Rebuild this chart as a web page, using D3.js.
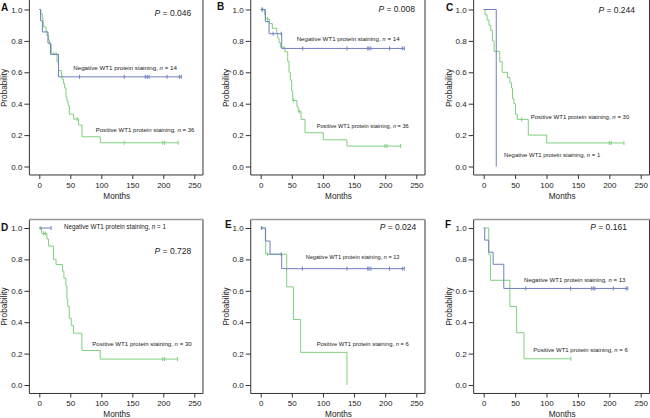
<!DOCTYPE html>
<html><head><meta charset="utf-8">
<script src="https://cdn.jsdelivr.net/npm/d3@7"></script>
<style>
html,body{margin:0;padding:0;background:#fff;}
svg{display:block;font-family:"Liberation Sans",Arial,sans-serif;}
</style></head>
<body>
<svg id="chart" width="650" height="418"></svg>
<script>
// ---------- data ----------
const panelLetters = ["A","B","C","D","E","F"];
const pValues = ["0.046","0.008","0.244","0.728","0.024","0.161"];
const negN = [14,14,1,1,13,13];
const posN = [36,36,30,30,6,6];
const xTicks = [0,50,100,150,200,250];
const yTicks = [0,0.2,0.4,0.6,0.8,1.0];

// Panel A
const negTimesA = [0,2,5,14,18,31];
const negSurvA  = [1,0.929,0.857,0.786,0.714,0.571];
const negCensA  = [65,137,171,174,177,206,226,229];
const posTimesA = [0,2.7,4.8,6,7,10.8,12.4,15,16.7,19.4,28.5,31,35.5,36.6,39.2,40.9,43,44.6,46.5,48.4,55.4,63.4,68.8,98.4];
const posSurvA  = [1,0.972,0.944,0.917,0.889,0.861,0.833,0.806,0.778,0.722,0.667,0.611,0.583,0.556,0.528,0.5,0.444,0.417,0.389,0.333,0.302,0.264,0.189,0.151];
const posCensA  = [61,137,199,202,224];
// Panel B
const negTimesB = [0,7.5,13.4,33.7];
const negSurvB  = [1,0.923,0.846,0.752];
const negCensB  = [3,20,33,67.5,138.6,172,174,177,207,227.5,230.7];
const posTimesB = [0,5.9,7.5,14,18.7,25.7,27.3,29.4,31.6,39,43.4,45.5,47.6,49.8,51.4,58.3,60.4,64.8,71.2,100.6,138.6];
const posSurvB  = [1,0.97,0.94,0.91,0.88,0.85,0.82,0.79,0.76,0.73,0.67,0.6,0.55,0.48,0.42,0.38,0.35,0.30,0.215,0.17,0.13];
const posCensB  = [1.6,11,53,62,199.7,203,224.8];
// Panel C
const negTimesC = [0,20];
const negSurvC  = [1,0];
const negCensC  = [];
const posTimesC = [0,2.1,5.3,8.5,11.2,13.9,16.6,25.6,29.4,37.9,41.7,44.3,45.9,48,50.7,53.4,71,100.4];
const posSurvC  = [1,0.967,0.933,0.9,0.867,0.8,0.733,0.667,0.6,0.567,0.533,0.5,0.433,0.4,0.333,0.3,0.2,0.15];
const posCensC  = [60.4,200,203,223.3];
// Panel D
const negTimesD = [0];
const negSurvD  = [1];
const negCensD  = [19];
const posTimesD = [0,3.8,12.3,15,23,27,37.5,39.7,42.9,44.5,46,48.3,51.5,55,68.7,98.2];
const posSurvD  = [1,0.965,0.93,0.885,0.8,0.767,0.725,0.68,0.63,0.55,0.5,0.425,0.38,0.33,0.22,0.165];
const posCensD  = [1.6,7,9.7,199,202,223];
// Panel E
const negTimesE = [0,7.5,15,33.7];
const negSurvE  = [1,0.917,0.833,0.741];
const negCensE  = [1.6,33,67,138.6,172,174,177,207,227.5,230.7];
const posTimesE = [0,8,41.8,52.5,64.2,138.6];
const posSurvE  = [1,0.833,0.625,0.417,0.208,0];
const posCensE  = [11.2];
// Panel F
const negTimesF = [0,1.6,8,15,32];
const negSurvF  = [1,0.923,0.846,0.769,0.615];
const negCensF  = [67,138.4,172,174.5,177,206.4,226.7,229.4];
const posTimesF = [0,8,10.7,41.7,52.4,64.1];
const posSurvF  = [1,0.833,0.667,0.5,0.333,0.167];
const posCensF  = [138.9];

const negSeries = [
  {t:negTimesA,s:negSurvA,c:negCensA},{t:negTimesB,s:negSurvB,c:negCensB},{t:negTimesC,s:negSurvC,c:negCensC},
  {t:negTimesD,s:negSurvD,c:negCensD},{t:negTimesE,s:negSurvE,c:negCensE},{t:negTimesF,s:negSurvF,c:negCensF}];
const posSeries = [
  {t:posTimesA,s:posSurvA,c:posCensA},{t:posTimesB,s:posSurvB,c:posCensB},{t:posTimesC,s:posSurvC,c:posCensC},
  {t:posTimesD,s:posSurvD,c:posCensD},{t:posTimesE,s:posSurvE,c:posCensE},{t:posTimesF,s:posSurvF,c:posCensF}];

// ---------- layout (positions / styles) ----------
const colX0   = [39.3,260.7,483.7];
const colX250 = [194.3,416.3,640.7];
const rowY1   = [9.5,228];
const rowY0   = [166.5,385];
const frameTop = [-1,219.5];
const letterPos = [[1,10.5],[217,10],[446,11],[1,231],[225,227.5],[445,227.5]];
// label anchors in data units [months, probability], plus font size
const negLabelPos = [[54.8,0.615,6.2],[57.8,0.801,6.15],[32.3,0.06,5.95],[39.8,0.992,6.3],[72.3,0.801,5.6],[64.2,0.656,6.05]];
const posLabelPos = [[91,0.218,6.05],[90,0.245,5.65],[74.8,0.304,6.05],[85.5,0.246,6.1],[90,0.246,5.85],[79,0.21,6.0]];
const pPos = [[245,0.959],[248,0.986],[241,0.976],[245,0.834],[250,0.986],[228,0.986]];

const BLUE = "#6f7fc0", GREEN = "#7fcf7f", INK = "#222";

const svg = d3.select("#chart");

panelLetters.forEach((L, i) => {
  const col = i % 3, row = Math.floor(i / 3);
  const x = d3.scaleLinear().domain([0,250]).range([colX0[col], colX250[col]]);
  const y = d3.scaleLinear().domain([0,1]).range([rowY0[row], rowY1[row]]);
  const fl = x(-16), fr = x(264), fb = y(-0.054), ft = frameTop[row];
  const g = svg.append("g");

  // frame
  g.append("path")
    .attr("d", `M${fl},${ft}V${fb}H${fr}V${ft}`)
    .attr("fill","none").attr("stroke","#333").attr("stroke-width",1);
  g.append("line").attr("x1",fl).attr("x2",fr).attr("y1",ft).attr("y2",ft)
    .attr("stroke", row === 0 ? "#333" : "#999").attr("stroke-width", row === 0 ? 1 : 1.6);

  // axes
  const ya = g.append("g").attr("transform",`translate(${fl},0)`)
    .call(d3.axisLeft(y).tickValues(yTicks).tickFormat(d3.format(".1f")).tickSize(5).tickPadding(2));
  const xa = g.append("g").attr("transform",`translate(0,${fb})`)
    .call(d3.axisBottom(x).tickValues(xTicks).tickSize(4).tickPadding(3));
  [ya, xa].forEach(a => {
    a.select(".domain").remove();
    a.selectAll("line").attr("stroke","#333");
    a.selectAll("text").attr("fill",INK).style("font-size","8px").style("font-family","Liberation Sans, Arial, sans-serif");
  });

  // titles
  g.append("text").attr("x",(colX0[col]+colX250[col])/2).attr("y",fb+24)
    .attr("text-anchor","middle").attr("fill",INK).style("font-size","8.2px").text("Months");
  g.append("text").attr("transform",`translate(${fl-22},${(rowY0[row]+rowY1[row])/2}) rotate(-90)`)
    .attr("text-anchor","middle").attr("fill",INK).style("font-size","8.2px").text("Probability");

  // panel letter
  g.append("text").attr("x",letterPos[i][0]).attr("y",letterPos[i][1])
    .attr("fill","#111").style("font-size","10px").style("font-weight","bold").text(L);

  // P value
  const pt = g.append("text").attr("x",x(pPos[i][0])).attr("y",y(pPos[i][1]))
    .attr("text-anchor","end").attr("fill",INK).style("font-size","8.5px");
  pt.append("tspan").style("font-style","italic").text("P");
  pt.append("tspan").text(" = " + pValues[i]);

  // curves
  const line = d3.line().x(d => x(d[0])).y(d => y(d[1])).curve(d3.curveStepAfter);
  function survAt(ser, t){ let v = ser.s[0]; ser.t.forEach((tt,k)=>{ if (tt <= t) v = ser.s[k]; }); return v; }
  function drawSeries(ser, color){
    const pts = ser.t.map((t,k)=>[t, ser.s[k]]);
    const end = Math.max(ser.t[ser.t.length-1], ...(ser.c.length ? ser.c : [0]));
    pts.push([end, ser.s[ser.s.length-1]]);
    g.append("path").attr("d", line(pts)).attr("fill","none").attr("stroke",color).attr("stroke-width",1);
    g.selectAll(null).data(ser.c).enter().append("line")
      .attr("x1", d => x(d)).attr("x2", d => x(d))
      .attr("y1", d => y(survAt(ser,d)) - 2).attr("y2", d => y(survAt(ser,d)) + 2)
      .attr("stroke", color).attr("stroke-width",1);
  }
  drawSeries(posSeries[i], GREEN);
  drawSeries(negSeries[i], BLUE);

  // labels
  function label(pos, word, n){
    const t = g.append("text").attr("x",x(pos[0])).attr("y",y(pos[1]))
      .attr("fill",INK).style("font-size",pos[2]+"px");
    t.append("tspan").text(word + " WT1 protein staining, ");
    t.append("tspan").style("font-style","italic").text("n");
    t.append("tspan").text(" = " + n);
  }
  label(negLabelPos[i], "Negative", negN[i]);
  label(posLabelPos[i], "Positive", posN[i]);
});
</script>
</body></html>
